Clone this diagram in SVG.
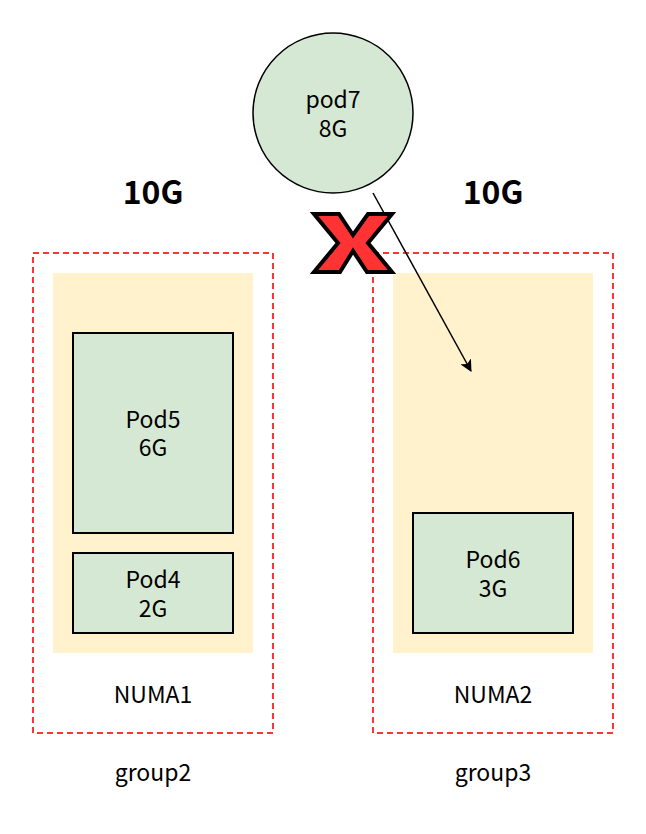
<svg xmlns="http://www.w3.org/2000/svg" width="646" height="834" viewBox="0 0 646 834">
<style>
.t{font-family:"Noto Sans CJK SC","Noto Sans",sans-serif;font-size:23px;fill:#000;text-anchor:middle}
.b{font-family:"Noto Sans CJK SC","Noto Sans",sans-serif;font-size:32px;font-weight:bold;fill:#000;text-anchor:middle}
.grp{fill:none;stroke:#FF3333;stroke-width:2;stroke-dasharray:6 4}
.numa{fill:#FFF2CC;stroke:none}
.pod{fill:#D5E8D4;stroke:#000;stroke-width:2}
</style>
<defs>
<marker id="arr" markerWidth="12" markerHeight="12" viewBox="0 0 12 12" refX="11" refY="6" orient="auto" markerUnits="userSpaceOnUse">
<path d="M0,0 L12,6 L0,12 L3,6 Z" fill="#000"/>
</marker>
</defs>
<rect width="646" height="834" fill="#fff"/>
<g id="group2">
<rect class="grp" x="33" y="253" width="240" height="480"/>
<text class="t" x="153" y="781">group2</text>
</g>
<g id="group3">
<rect class="grp" x="373" y="253" width="240" height="480"/>
<text class="t" x="493" y="781">group3</text>
</g>
<g id="numa1">
<rect class="numa" x="53" y="273" width="200" height="380"/>
<text class="t" x="153" y="703">NUMA1</text>
</g>
<g id="numa2">
<rect class="numa" x="393" y="273" width="200" height="380"/>
<text class="t" x="493" y="703">NUMA2</text>
</g>
<g id="label10g-1"><text class="b" x="153" y="204">10G</text></g>
<g id="label10g-2"><text class="b" x="493" y="204">10G</text></g>
<g id="pod5">
<rect class="pod" x="73" y="333" width="160" height="200"/>
<text class="t" x="153" y="428">Pod5</text>
<text class="t" x="153" y="456">6G</text>
</g>
<g id="pod4">
<rect class="pod" x="73" y="553" width="160" height="80"/>
<text class="t" x="153" y="588">Pod4</text>
<text class="t" x="153" y="617">2G</text>
</g>
<g id="pod6">
<rect class="pod" x="413" y="513" width="160" height="120"/>
<text class="t" x="493" y="568">Pod6</text>
<text class="t" x="493" y="597">3G</text>
</g>
<g id="pod7">
<circle cx="333" cy="113" r="80" fill="#D5E8D4" stroke="#000" stroke-width="1.5"/>
<text class="t" x="333" y="108">pod7</text>
<text class="t" x="333" y="137">8G</text>
</g>
<g id="connectors">
<line x1="373" y1="193" x2="471" y2="371" stroke="#000" stroke-width="1.5" marker-end="url(#arr)"/>
</g>
<g id="cross">
<polygon points="314,214 339,214 353,235 368,214 392,214 368,243 392,272 367,272 353,251 340,272 314,272 338,243" fill="#FF3333" stroke="#000" stroke-width="4" stroke-linejoin="miter"/>
</g>
</svg>
